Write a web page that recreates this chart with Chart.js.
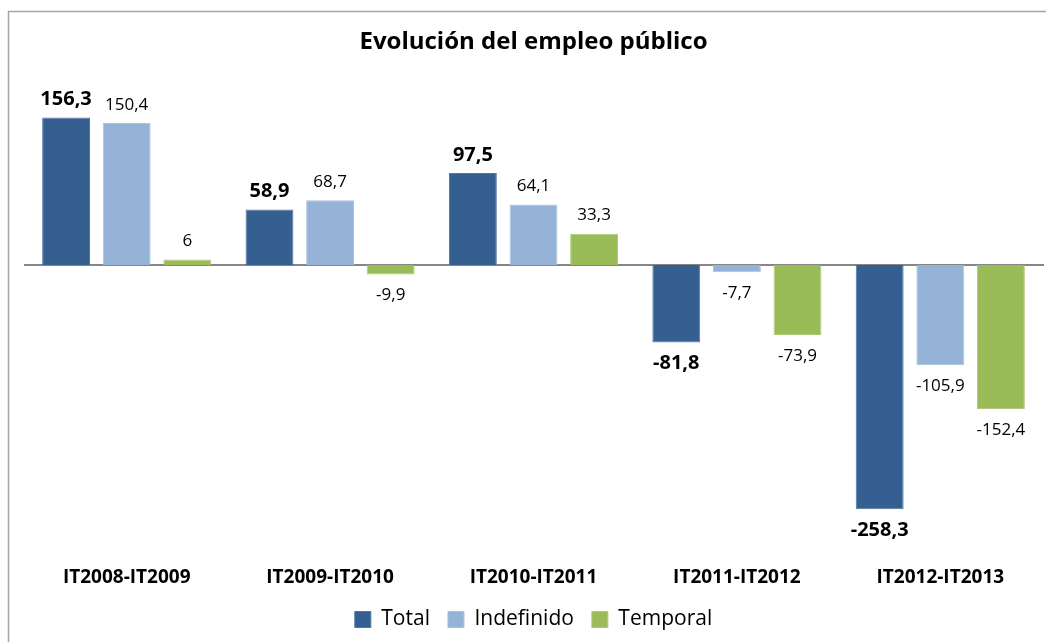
<!DOCTYPE html>
<html>
<head>
<meta charset="utf-8">
<script src="https://cdn.jsdelivr.net/npm/chart.js@4"></script>
<style>
    body { margin: 0; background: #fff; }
    #wrap { width: 1046px; height: 642px; }
</style>
</head>
<body>
<div id="wrap"><canvas id="empleoChart" width="1046" height="642"></canvas></div>
<script>
const categories = ['IT2008-IT2009', 'IT2009-IT2010', 'IT2010-IT2011', 'IT2011-IT2012', 'IT2012-IT2013'];
const totalValues = [156.3, 58.9, 97.5, -81.8, -258.3];
const indefinidoValues = [150.4, 68.7, 64.1, -7.7, -105.9];
const temporalValues = [6, -9.9, 33.3, -73.9, -152.4];

const FONT = "'Open Sans', 'Noto Sans', sans-serif";

function fmt(v) {
    return String(v).replace('.', ',');
}

// frame lines + zero line
const framePlugin = {
    id: 'frame',
    beforeDatasetsDraw(chart) {
        const ctx = chart.ctx;
        const y0 = chart.scales.y.getPixelForValue(0);
        ctx.save();
        ctx.strokeStyle = '#868686';
        ctx.lineWidth = 2;
        ctx.beginPath();
        ctx.moveTo(chart.chartArea.left - 1, y0);
        ctx.lineTo(1044, y0);
        ctx.stroke();
        ctx.restore();
    },
    afterDraw(chart) {
        const ctx = chart.ctx;
        ctx.save();
        ctx.strokeStyle = '#a6a6a6';
        ctx.lineWidth = 1.5;
        ctx.beginPath();
        ctx.moveTo(8.5, 642);
        ctx.lineTo(8.5, 11.5);
        ctx.lineTo(1046, 11.5);
        ctx.stroke();
        ctx.restore();
    }
};

// value labels above / below bars
const valueLabels = {
    id: 'valueLabels',
    afterDatasetsDraw(chart) {
        const ctx = chart.ctx;
        ctx.save();
        ctx.textAlign = 'center';
        ctx.textBaseline = 'middle';
        ctx.fillStyle = '#000';
        chart.data.datasets.forEach((ds, i) => {
            const meta = chart.getDatasetMeta(i);
            const bold = i === 0;
            ctx.font = (bold ? 'bold 20px ' : '17px ') + FONT;
            meta.data.forEach((bar, j) => {
                const v = ds.data[j];
                const y = v >= 0 ? bar.y - 18 : bar.y + 21;
                ctx.fillText(fmt(v), bar.x, y);
            });
        });
        ctx.restore();
    }
};

const ctx = document.getElementById('empleoChart').getContext('2d');
const empleoChart = new Chart(ctx, {
    type: 'bar',
    data: {
        labels: categories,
        datasets: [
            { label: 'Total', data: totalValues, backgroundColor: '#365f91', borderColor: '#4f76a6', borderWidth: 1 },
            { label: 'Indefinido', data: indefinidoValues, backgroundColor: '#95b3d7', borderColor: '#a9c2e0', borderWidth: 1 },
            { label: 'Temporal', data: temporalValues, backgroundColor: '#9bbb59', borderColor: '#b0ca7c', borderWidth: 1 }
        ]
    },
    options: {
        responsive: false,
        animation: false,
        layout: { padding: { left: 25, right: 4, top: 0, bottom: 2 } },
        datasets: {
            bar: { categoryPercentage: 0.894, barPercentage: 0.79 }
        },
        scales: {
            x: {
                grid: { display: false, drawTicks: false },
                border: { display: false },
                ticks: {
                    padding: 25,
                    autoSkip: false,
                    maxRotation: 0,
                    color: '#000',
                    font: { family: FONT, size: 19, weight: 'bold' }
                },
                afterFit(scale) {
                    scale.height = 50;
                }
            },
            y: {
                display: false,
                min: -292,
                max: 176
            }
        },
        plugins: {
            title: {
                display: true,
                text: 'Evolución del empleo público',
                color: '#000',
                font: { family: FONT, size: 24, weight: 'bold' },
                padding: { top: 28, bottom: 42 }
            },
            legend: {
                position: 'bottom',
                labels: {
                    color: '#000',
                    boxWidth: 16,
                    boxHeight: 16,
                    padding: 18,
                    font: { family: FONT, size: 21 }
                }
            },
            tooltip: { enabled: false }
        }
    },
    plugins: [framePlugin, valueLabels]
});
</script>
</body>
</html>
